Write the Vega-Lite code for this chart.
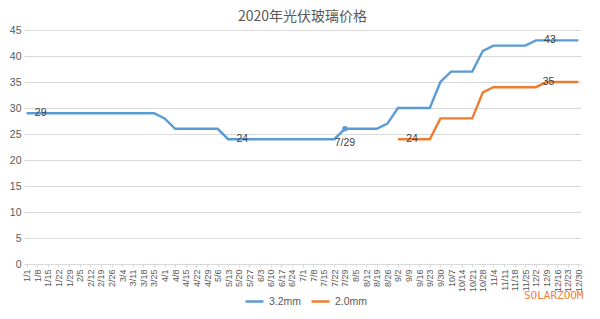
{
  "$schema": "https://vega.github.io/schema/vega-lite/v6.json",
  "width": 557,
  "height": 234,
  "autosize": "none",
  "padding": {"left": 24, "top": 30, "right": 19, "bottom": 55},
  "background": "white",
  "title": {"text": "2020年光伏玻璃价格", "font": "Noto Sans CJK SC", "fontSize": 14, "fontWeight": "normal", "color": "#595959", "anchor": "middle", "offset": 1},
  "data": {"values": [
    {"d":"1/1","s":"3.2mm","v":29,"lbl":"29"},{"d":"1/8","s":"3.2mm","v":29},{"d":"1/15","s":"3.2mm","v":29},{"d":"1/22","s":"3.2mm","v":29},{"d":"1/29","s":"3.2mm","v":29},
    {"d":"2/5","s":"3.2mm","v":29},{"d":"2/12","s":"3.2mm","v":29},{"d":"2/19","s":"3.2mm","v":29},{"d":"2/26","s":"3.2mm","v":29},
    {"d":"3/4","s":"3.2mm","v":29},{"d":"3/11","s":"3.2mm","v":29},{"d":"3/18","s":"3.2mm","v":29},{"d":"3/25","s":"3.2mm","v":29},
    {"d":"4/1","s":"3.2mm","v":28},{"d":"4/8","s":"3.2mm","v":26},{"d":"4/15","s":"3.2mm","v":26},{"d":"4/22","s":"3.2mm","v":26},{"d":"4/29","s":"3.2mm","v":26},
    {"d":"5/6","s":"3.2mm","v":26},{"d":"5/13","s":"3.2mm","v":24,"lbl":"24"},{"d":"5/20","s":"3.2mm","v":24},{"d":"5/27","s":"3.2mm","v":24},
    {"d":"6/3","s":"3.2mm","v":24},{"d":"6/10","s":"3.2mm","v":24},{"d":"6/17","s":"3.2mm","v":24},{"d":"6/24","s":"3.2mm","v":24},
    {"d":"7/1","s":"3.2mm","v":24},{"d":"7/8","s":"3.2mm","v":24},{"d":"7/15","s":"3.2mm","v":24},{"d":"7/22","s":"3.2mm","v":24},{"d":"7/29","s":"3.2mm","v":26,"lbl":"7/29"},
    {"d":"8/5","s":"3.2mm","v":26},{"d":"8/12","s":"3.2mm","v":26},{"d":"8/19","s":"3.2mm","v":26},{"d":"8/26","s":"3.2mm","v":27},
    {"d":"9/2","s":"3.2mm","v":30},{"d":"9/9","s":"3.2mm","v":30},{"d":"9/16","s":"3.2mm","v":30},{"d":"9/23","s":"3.2mm","v":30},{"d":"9/30","s":"3.2mm","v":35},
    {"d":"10/7","s":"3.2mm","v":37},{"d":"10/14","s":"3.2mm","v":37},{"d":"10/21","s":"3.2mm","v":37},{"d":"10/28","s":"3.2mm","v":41},
    {"d":"11/4","s":"3.2mm","v":42},{"d":"11/11","s":"3.2mm","v":42},{"d":"11/18","s":"3.2mm","v":42},{"d":"11/25","s":"3.2mm","v":42},
    {"d":"12/2","s":"3.2mm","v":43,"lbl":"43"},{"d":"12/9","s":"3.2mm","v":43},{"d":"12/16","s":"3.2mm","v":43},{"d":"12/23","s":"3.2mm","v":43},{"d":"12/30","s":"3.2mm","v":43},
    {"d":"9/2","s":"2.0mm","v":24,"lbl":"24"},{"d":"9/9","s":"2.0mm","v":24},{"d":"9/16","s":"2.0mm","v":24},{"d":"9/23","s":"2.0mm","v":24},{"d":"9/30","s":"2.0mm","v":28},
    {"d":"10/7","s":"2.0mm","v":28},{"d":"10/14","s":"2.0mm","v":28},{"d":"10/21","s":"2.0mm","v":28},{"d":"10/28","s":"2.0mm","v":33},
    {"d":"11/4","s":"2.0mm","v":34},{"d":"11/11","s":"2.0mm","v":34},{"d":"11/18","s":"2.0mm","v":34},{"d":"11/25","s":"2.0mm","v":34},
    {"d":"12/2","s":"2.0mm","v":34},{"d":"12/9","s":"2.0mm","v":35,"lbl":"35"},{"d":"12/16","s":"2.0mm","v":35},{"d":"12/23","s":"2.0mm","v":35},{"d":"12/30","s":"2.0mm","v":35}
  ]},
  "encoding": {
    "x": {"field": "d", "type": "nominal", "sort": null, "scale": {"type": "point", "padding": 0.25},
      "axis": {"title": "SOLARZOOM", "titleColor": "#f07f3c", "titleFont": "DejaVu Sans Mono", "titleFontSize": 11, "titleFontWeight": "normal", "titleAlign": "right", "titleBaseline": "middle", "titleX": 559, "titleY": 31, "titleAngle": 0,
        "labelAngle": -90, "labelFontSize": 9, "labelFont": "Liberation Sans", "labelColor": "#595959", "labelOverlap": false, "labelPadding": 2,
        "domainColor": "#d9d9d9", "ticks": true, "tickColor": "#d9d9d9", "tickSize": 3, "grid": false}},
    "y": {"field": "v", "type": "quantitative", "scale": {"domain": [0, 45], "nice": false},
      "axis": {"title": null, "values": [0,5,10,15,20,25,30,35,40,45], "domain": false, "ticks": false, "labelFontSize": 10.5, "labelFont": "Liberation Sans", "labelColor": "#595959", "labelPadding": 3, "gridColor": "#d9d9d9", "gridWidth": 1}}
  },
  "layer": [
    {"mark": {"type": "line", "strokeWidth": 2.4, "interpolate": "linear"},
      "encoding": {"color": {"field": "s", "type": "nominal",
        "scale": {"domain": ["3.2mm", "2.0mm"], "range": ["#5b9bd5", "#ed7d31"]},
        "legend": {"title": null, "orient": "none", "direction": "horizontal", "legendX": 220, "legendY": 261, "symbolType": "stroke", "symbolSize": 324, "symbolStrokeWidth": 2.5, "labelFontSize": 10.5, "labelFont": "Liberation Sans", "labelColor": "#595959", "labelOffset": 4, "columnPadding": 4}}}},
    {"transform": [{"filter": "datum.lbl == '7/29'"}],
      "mark": {"type": "point", "filled": true, "size": 30, "opacity": 1, "color": "#5b9bd5"}},
    {"transform": [{"filter": "datum.lbl == '29' || datum.lbl == '24' || datum.lbl == '43'"}],
      "mark": {"type": "text", "align": "center", "baseline": "middle", "dx": 14, "fontSize": 10.5, "font": "Liberation Sans", "color": "#404040"},
      "encoding": {"text": {"field": "lbl"}}},
    {"transform": [{"filter": "datum.lbl == '35'"}],
      "mark": {"type": "text", "align": "center", "baseline": "middle", "dx": 2, "fontSize": 10.5, "font": "Liberation Sans", "color": "#404040"},
      "encoding": {"text": {"field": "lbl"}}},
    {"transform": [{"filter": "datum.lbl == '7/29'"}],
      "mark": {"type": "text", "align": "center", "baseline": "middle", "dy": 14, "fontSize": 10.5, "font": "Liberation Sans", "color": "#404040"},
      "encoding": {"text": {"field": "lbl"}}}
  ],
  "config": {"view": {"stroke": null}}
}
